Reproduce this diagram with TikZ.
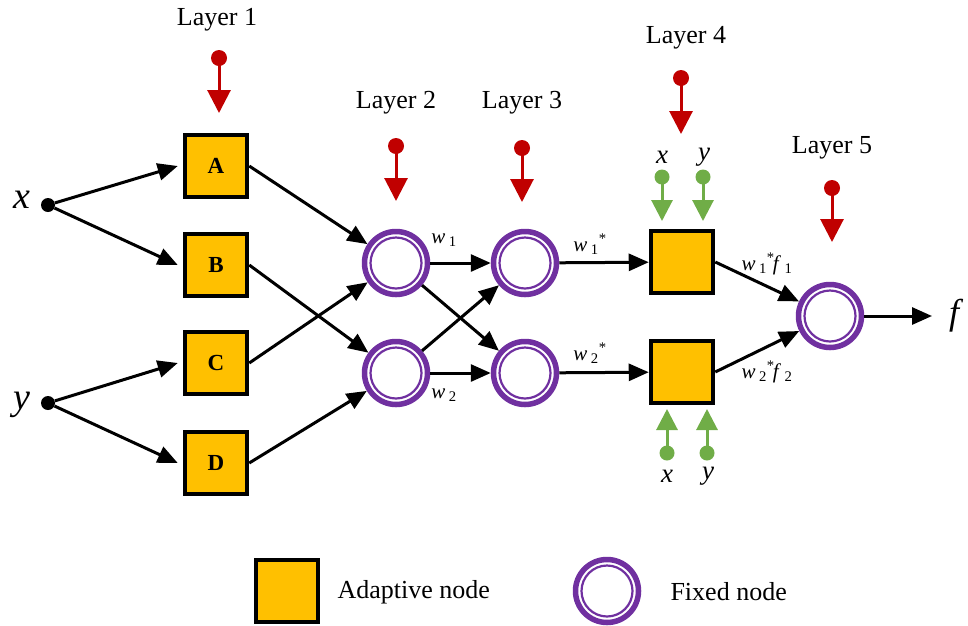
\documentclass[tikz,border=0pt]{standalone}
\usepackage{fontspec}
\setmainfont{Liberation Serif}
\usetikzlibrary{arrows.meta}
\definecolor{gold}{HTML}{FFC000}
\definecolor{purp}{HTML}{7030A0}
\definecolor{dred}{HTML}{C00000}
\definecolor{lgreen}{HTML}{70AD47}
\begin{document}
\begin{tikzpicture}[x=1pt,y=-1pt,
  adapt/.style={draw=black,fill=gold,line width=4.5pt,minimum size=62pt,inner sep=0pt,
    font=\fontsize{23}{25}\selectfont\bfseries},
  fixed/.style={circle,draw=purp,line width=5.5pt,minimum size=63pt,inner sep=0pt,fill=white,
    path picture={\draw[purp,line width=2.2pt] (path picture bounding box.center) circle[radius=25.5pt];}},
  conn/.style={-{Triangle[length=20pt,width=17pt]},line width=3pt,black},
  dot/.style={circle,fill=black,minimum size=14pt,inner sep=0pt},
  rdot/.style={circle,fill=dred,minimum size=16pt,inner sep=0pt},
  gdot/.style={circle,fill=lgreen,minimum size=15pt,inner sep=0pt},
  rarr/.style={dred,line width=3pt,-{Triangle[length=23pt,width=23pt]}},
  garr/.style={lgreen,line width=3pt,-{Triangle[length=21pt,width=21pt]}},
  lay/.style={font=\fontsize{26}{28}\selectfont},
  big/.style={font=\fontsize{38}{40}\selectfont\itshape},
  wl/.style={font=\fontsize{21}{23}\selectfont},
  xyl/.style={font=\fontsize{27}{29}\selectfont\itshape}
]
\useasboundingbox (0,0) rectangle (968,625);

% layer 1
\node[adapt] (A) at (216,166) {A};
\node[adapt] (B) at (216,265) {B};
\node[adapt] (C) at (216,363) {C};
\node[adapt] (D) at (216,463) {D};
% inputs
\node[dot] (xd) at (48,205) {};
\node[dot] (yd) at (48,403) {};
\node[big] (xl) at (22,200) {x};
\node[big] (yl) at (22,405) {y};
\draw[conn] (xd) -- ([xshift=-5pt]A.west);
\draw[conn] (xd) -- ([xshift=-5pt]B.west);
\draw[conn] (yd) -- ([xshift=-5pt]C.west);
\draw[conn] (yd) -- ([xshift=-5pt]D.west);

% layer 2, 3
\node[fixed] (P1) at (396,263) {};
\node[fixed] (P2) at (396,373) {};
\node[fixed] (N1) at (525,263) {};
\node[fixed] (N2) at (525,373) {};
\draw[conn] (A.east) -- (P1);
\draw[conn] (B.east) -- (P2);
\draw[conn] (C.east) -- (P1);
\draw[conn] (D.east) -- (P2);
\draw[conn] (P1) -- (N1);
\draw[conn] (P1) -- (N2);
\draw[conn] (P2) -- (N1);
\draw[conn] (P2) -- (N2);

% layer 4
\node[adapt] (Q1) at (682,262) {};
\node[adapt] (Q2) at (682,372) {};
\draw[conn] (N1) -- (Q1);
\draw[conn] (N2) -- (Q2);

% layer 5
\node[fixed] (S) at (830,316) {};
\draw[conn] (Q1.east) -- (S);
\draw[conn] (Q2.east) -- (S);
\coordinate (fo) at (932,316);
\draw[conn] (S) -- (fo);
\node[big,font=\fontsize{36}{38}\selectfont\itshape] (fl) at (954,316) {f};

% weight labels
\node[wl] (w1) at (444,240) {\textit{w}\,\textsubscript{1}};
\node[wl] (w2) at (444,395) {\textit{w}\,\textsubscript{2}};
\node[wl] (w1s) at (590,244) {\textit{w}\,\textsubscript{1}\textsuperscript{*}};
\node[wl] (w2s) at (590,353) {\textit{w}\,\textsubscript{2}\textsuperscript{*}};
\node[wl] (wf1) at (767,264) {\textit{w}\,\textsubscript{1}\textsuperscript{*}\kern-2pt\textit{f}\,\textsubscript{1}};
\node[wl] (wf2) at (767,372) {\textit{w}\,\textsubscript{2}\textsuperscript{*}\kern-2pt\textit{f}\,\textsubscript{2}};

% layer titles and red markers
\node[lay] (L1) at (217,20) {Layer 1};
\node[lay] (L2) at (396,103) {Layer 2};
\node[lay] (L3) at (522,103) {Layer 3};
\node[lay] (L4) at (686,38) {Layer 4};
\node[lay] (L5) at (832,148) {Layer 5};

\node[rdot] (r1) at (219,58) {};   \coordinate (r1t) at (219,113);
\node[rdot] (r2) at (396,146) {};  \coordinate (r2t) at (396,201);
\node[rdot] (r3) at (522,148) {};  \coordinate (r3t) at (522,202);
\node[rdot] (r4) at (681,78) {};   \coordinate (r4t) at (681,134);
\node[rdot] (r5) at (832,188) {};  \coordinate (r5t) at (832,242);
\foreach \r in {1,...,5} \draw[rarr] (r\r.center) -- (r\r t);

% green markers
\node[xyl] (gx1) at (662,157) {x};
\node[xyl] (gy1) at (704,157) {y};
\node[gdot] (g1) at (662,177) {}; \coordinate (g1t) at (662,221);
\node[gdot] (g2) at (703,177) {}; \coordinate (g2t) at (703,221);
\draw[garr] (g1.center) -- (g1t);
\draw[garr] (g2.center) -- (g2t);
\node[gdot] (g3) at (667,453) {}; \coordinate (g3t) at (667,409);
\node[gdot] (g4) at (707,453) {}; \coordinate (g4t) at (707,409);
\draw[garr] (g3.center) -- (g3t);
\draw[garr] (g4.center) -- (g4t);
\node[xyl] (gx2) at (667,476) {x};
\node[xyl] (gy2) at (708,476) {y};

% legend
\node[adapt] (la) at (287,591) {};
\node[lay,font=\fontsize{26}{28}\selectfont,anchor=west] (lat) at (334,592) {Adaptive node};
\node[fixed] (lf) at (607,591) {};
\node[lay,font=\fontsize{26}{28}\selectfont,anchor=west] (lft) at (667,592) {Fixed node};
\end{tikzpicture}
\end{document}
